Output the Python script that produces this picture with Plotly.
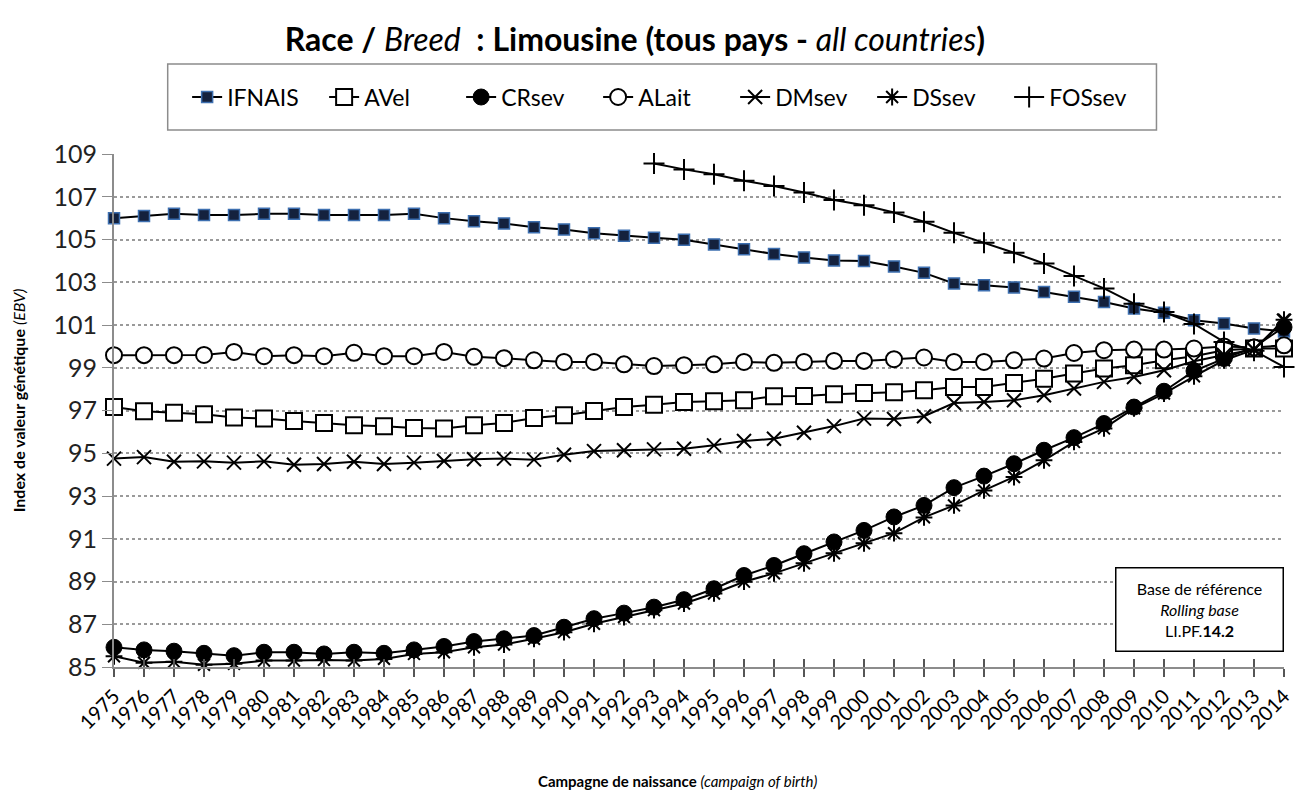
import plotly.graph_objects as go

# Campaign of birth (categories)
years = list(range(1975, 2015))

# Genetic index values (EBV) per series
ifnais = [106.0, 106.1, 106.2, 106.15, 106.15, 106.2, 106.2, 106.15, 106.15, 106.15,
          106.2, 106.0, 105.85, 105.75, 105.57, 105.47, 105.29, 105.17, 105.08, 104.99,
          104.77, 104.54, 104.32, 104.16, 104.02, 103.99, 103.74, 103.44, 102.94, 102.86,
          102.76, 102.54, 102.32, 102.08, 101.77, 101.57, 101.22, 101.07, 100.84, 100.7]
avel = [97.16, 96.96, 96.9, 96.82, 96.67, 96.62, 96.51, 96.42, 96.31, 96.26,
        96.18, 96.16, 96.31, 96.42, 96.65, 96.78, 96.98, 97.16, 97.27, 97.4,
        97.43, 97.48, 97.67, 97.68, 97.76, 97.82, 97.85, 97.95, 98.1, 98.1,
        98.29, 98.49, 98.73, 98.96, 99.12, 99.35, 99.54, 99.82, 99.9, 99.9]
crsev = [85.92, 85.8, 85.74, 85.64, 85.53, 85.69, 85.69, 85.61, 85.69, 85.64,
         85.8, 85.96, 86.19, 86.32, 86.47, 86.86, 87.26, 87.52, 87.8, 88.15,
         88.66, 89.28, 89.75, 90.3, 90.85, 91.39, 92.02, 92.56, 93.39, 93.93,
         94.51, 95.14, 95.73, 96.39, 97.16, 97.9, 98.85, 99.43, 99.97, 100.9]
alait = [99.59, 99.59, 99.59, 99.6, 99.74, 99.54, 99.59, 99.54, 99.7, 99.54,
         99.54, 99.74, 99.51, 99.45, 99.35, 99.27, 99.27, 99.16, 99.08, 99.12,
         99.16, 99.27, 99.23, 99.27, 99.32, 99.32, 99.4, 99.48, 99.27, 99.27,
         99.35, 99.43, 99.69, 99.82, 99.85, 99.85, 99.9, 100.0, 99.95, 100.05]
dmsev = [94.75, 94.82, 94.6, 94.62, 94.56, 94.62, 94.46, 94.5, 94.6, 94.5,
         94.56, 94.64, 94.72, 94.75, 94.7, 94.93, 95.1, 95.14, 95.18, 95.21,
         95.37, 95.57, 95.68, 95.96, 96.27, 96.62, 96.6, 96.73, 97.35, 97.4,
         97.48, 97.71, 98.03, 98.34, 98.57, 98.88, 99.3, 99.6, 99.85, 101.2]
dssev = [85.5, 85.2, 85.25, 85.1, 85.15, 85.3, 85.3, 85.33, 85.3, 85.38,
         85.61, 85.69, 85.92, 86.05, 86.32, 86.63, 87.02, 87.34, 87.66, 87.97,
         88.44, 88.99, 89.38, 89.85, 90.32, 90.79, 91.26, 92.0, 92.56, 93.26,
         93.89, 94.67, 95.53, 96.16, 97.1, 97.79, 98.6, 99.35, 99.85, 101.25]
fossev = [None] * 18 + [108.56, 108.28, 108.05, 107.75, 107.5, 107.2, 106.85, 106.6, 106.26, 105.83,
                        105.31, 104.85, 104.38, 103.88, 103.29, 102.71, 102.0, 101.61, 101.05, 100.21,
                        99.8, 99.04]

series = [
    ("IFNAIS", ifnais, dict(symbol="square", size=11, color="#14213d",
                            line=dict(color="#3d6fb0", width=1.5))),
    ("AVel", avel, dict(symbol="square", size=16, color="white",
                        line=dict(color="black", width=2))),
    ("CRsev", crsev, dict(symbol="circle", size=16, color="black",
                          line=dict(color="black", width=1))),
    ("ALait", alait, dict(symbol="circle", size=16, color="white",
                          line=dict(color="black", width=2))),
    ("DMsev", dmsev, dict(symbol="x-thin", size=14, color="black",
                          line=dict(color="black", width=2))),
    ("DSsev", dssev, dict(symbol="asterisk", size=14, color="black",
                          line=dict(color="black", width=2))),
    ("FOSsev", fossev, dict(symbol="cross-thin", size=15, color="black",
                            line=dict(color="black", width=2))),
]

FONT = "Lato"

fig = go.Figure()
for name, vals, marker in series:
    fig.add_trace(go.Scatter(
        x=years, y=vals, name=name, mode="lines+markers",
        line=dict(color="black", width=2),
        marker=marker, cliponaxis=False,
    ))

# invisible trace so the overlay axis (inner half of the crossing ticks) is drawn
fig.add_trace(go.Scatter(x=years, y=[None] * len(years), xaxis="x2",
                         showlegend=False, hoverinfo="skip"))

fig.update_layout(
    # page body adds an 8px offset, so the figure is 8px smaller each way
    width=1298, height=790,
    margin=dict(l=106, r=16, t=146, b=131),
    paper_bgcolor="white", plot_bgcolor="white",
    font=dict(family=FONT, color="black"),
    title=dict(
        text="<b>Race / </b><i>Breed</i><b>  : Limousine (tous pays - </b><i>all countries</i><b>)</b>",
        x=0.483, xanchor="center", y=0.96, yanchor="middle",
        font=dict(size=32, family=FONT),
    ),
    legend=dict(
        orientation="h", x=0.0625, xanchor="left", y=1.111, yanchor="middle",
        borderwidth=0, bgcolor="rgba(0,0,0,0)",
        font=dict(size=23, family=FONT), entrywidth=92,
        itemsizing="trace",
    ),
    shapes=[
        dict(type="rect", xref="paper", yref="paper",
             x0=0.0459, x1=0.891, y0=1.0468, y1=1.1754,
             line=dict(color="#8c8c8c", width=1.5), fillcolor="rgba(0,0,0,0)"),
    ],
    xaxis=dict(
        range=[1975, 2014], tickmode="array", tickvals=years,
        ticktext=[str(y) for y in years], tickangle=-45,
        tickfont=dict(size=20, family=FONT),
        ticks="outside", ticklen=8, tickcolor="#555", tickwidth=1.5,
        showline=True, linecolor="#8c8c8c", linewidth=1.5,
        showgrid=False, zeroline=False,
    ),
    xaxis2=dict(
        range=[1975, 2014], overlaying="x", anchor="y", side="bottom",
        tickmode="array", tickvals=years, showticklabels=False,
        ticks="inside", ticklen=8, tickcolor="#555", tickwidth=1.5,
        showgrid=False, zeroline=False, showline=False,
    ),
    yaxis=dict(
        range=[85, 109], tickmode="linear", tick0=85, dtick=2,
        tickfont=dict(size=25, family=FONT, color="#222"),
        ticks="outside", ticklen=10, tickcolor="#8c8c8c",
        showline=True, linecolor="#8c8c8c", linewidth=2,
        showgrid=True, gridcolor="#9a9a9a", gridwidth=1.5, griddash="dot",
        zeroline=False,
    ),
    annotations=[
        dict(text="<b>Campagne de naissance</b> <i>(campaign of birth)</i>",
             xref="paper", yref="paper", x=0.482, y=-0.222, xanchor="center",
             yanchor="middle", showarrow=False, font=dict(size=15, family=FONT)),
        dict(text="<b>Index de valeur génétique</b> <i>(EBV)</i>",
             xref="paper", yref="paper", x=-0.082, y=0.52, xanchor="center",
             yanchor="middle", textangle=-90, showarrow=False,
             font=dict(size=16, family=FONT)),
        dict(text="Base de référence<br><i>Rolling base</i><br>LI.PF.<b>14.2</b>",
             xref="paper", yref="paper", x=1.0, y=0.029, xanchor="right",
             yanchor="bottom", showarrow=False, align="center",
             width=160, height=76, bgcolor="white", bordercolor="black",
             borderwidth=1.5, borderpad=3,
             font=dict(size=16, family=FONT)),
    ],
)

fig.write_html("out.html")
